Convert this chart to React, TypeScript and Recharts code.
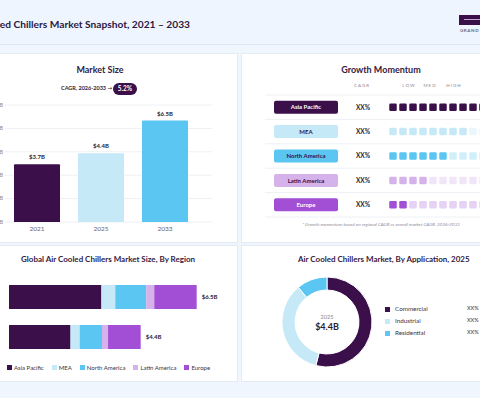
import React from "react";
import {
  BarChart,
  Bar,
  XAxis,
  YAxis,
  CartesianGrid,
  Cell,
  LabelList,
  ScatterChart,
  Scatter,
  PieChart,
  Pie,
} from "recharts";

// market size, top left
const sizeYears = ["2021", "2025", "2033"];
const sizeValues = [3.7, 4.4, 6.5];
const sizeLabels = ["$3.7B", "$4.4B", "$6.5B"];
const sizeTicks = [0, 1.5, 3, 4.5, 6, 7.5];

// regions (shared by momentum + stacked bars)
const regions = ["Asia Pacific", "MEA", "North America", "Latin America", "Europe"];
const regionCagr = ["XX%", "XX%", "XX%", "XX%", "XX%"];
const momentumFilled = [12, 8, 6, 4, 2];
const momentumSteps = 12;

// stacked bars, bottom left
const stackYears = ["2033", "2025"];
const stackTotals = ["$6.5B", "$4.4B"];
const asiaPacific = [3.2, 2.13];
const mea = [0.48, 0.32];
const northAmerica = [1.07, 0.77];
const latinAmerica = [0.28, 0.21];
const europe = [1.47, 1.13];

// application donut, bottom right
const applications = ["Commercial", "Industrial", "Residential"];
const applicationShares = [54, 35, 11];
const applicationPct = ["XX%", "XX%", "XX%"];

const DARK = "#3a0f4a";
const regionColors = [DARK, "#c6e9f8", "#5bc6f1", "#d6b2eb", "#a24fd6"];
const regionFaded = [DARK, "#e9f6fc", "#d0effa", "#f1e6f8", "#e6d2f4"];
const regionText = ["#fff", DARK, DARK, DARK, "#fff"];
const applicationColors = [DARK, "#c6e9f8", "#5bc6f1"];

const FONT = "Lato, 'DejaVu Sans', sans-serif";
const TITLE = "#35203f";

const sizeData = sizeYears.map((year, i) => ({
  year,
  value: sizeValues[i],
  label: sizeLabels[i],
}));

const momentumData = regions.flatMap((region, r) =>
  Array.from({ length: momentumSteps }, (_, step) => ({
    step,
    row: r,
    filled: step < momentumFilled[r],
  }))
);

const stackData = stackYears.map((year, i) => ({
  year,
  ap: asiaPacific[i],
  mea: mea[i],
  na: northAmerica[i],
  la: latinAmerica[i],
  eu: europe[i],
  total: stackTotals[i],
}));

const stackKeys = ["ap", "mea", "na", "la", "eu"];

const applicationData = applications.map((name, i) => ({
  name,
  value: applicationShares[i],
}));

const ROW_HALF = 12.2;
const MOMENTUM_LEFT = 231; // chart left edge on the page

function MomentumTick(props: any) {
  const { y, payload } = props;
  const r = payload.value as number;
  const o = 240 - MOMENTUM_LEFT;
  return (
    <g>
      <line x1={25 + o} x2={300} y1={y - ROW_HALF} y2={y - ROW_HALF} stroke="#edf0f4" />
      {r === regions.length - 1 && (
        <line x1={25 + o} x2={300} y1={y + ROW_HALF} y2={y + ROW_HALF} stroke="#edf0f4" />
      )}
      <rect x={34 + o} y={y - 6.5} width={64} height={13} rx={2} fill={regionColors[r]} />
      <text
        x={66 + o}
        y={y + 2.2}
        textAnchor="middle"
        fontSize={6}
        fontWeight={700}
        fill={regionText[r]}
        fontFamily={FONT}
      >
        {regions[r]}
      </text>
      <text
        x={123 + o}
        y={y + 2.3}
        textAnchor="middle"
        fontSize={6.5}
        fontWeight={700}
        fill="#2a2233"
        fontFamily={FONT}
      >
        {regionCagr[r]}
      </text>
    </g>
  );
}

function MomentumCell(props: any) {
  const { cx, cy, payload } = props;
  const r = payload.row as number;
  return (
    <rect
      x={cx - 3.75}
      y={cy - 3.75}
      width={7.5}
      height={7.5}
      rx={1.3}
      fill={payload.filled ? regionColors[r] : regionFaded[r]}
    />
  );
}

const panel = (left: number, top: number, width: number, height: number) => ({
  position: "absolute" as const,
  left,
  top,
  width,
  height,
  background: "#fff",
  border: "1px solid #e4ebf3",
  boxSizing: "border-box" as const,
});

const abs = (left: number, top: number): React.CSSProperties => ({
  position: "absolute",
  left,
  top,
  whiteSpace: "nowrap",
});

export default function App() {
  return (
    <div
      style={{
        position: "absolute",
        left: 0,
        top: 0,
        width: 480,
        height: 398,
        overflow: "hidden",
        background: "#f0f6fd",
        fontFamily: FONT,
      }}
    >
      {/* header */}
      <div style={{ position: "absolute", left: 0, top: 0, width: 480, height: 44, background: "#eef5fe", borderBottom: "1px solid #dfe9f4" }} />
      <div
        style={{
          position: "absolute",
          right: 290,
          top: 18,
          fontSize: 10.2,
          fontWeight: 700,
          color: "#2b1840",
          whiteSpace: "nowrap",
        }}
      >
        Air Cooled Chillers Market Snapshot, 2021 – 2033
      </div>
      <div style={{ position: "absolute", left: 459, top: 15, width: 30, height: 10, background: DARK }}>
        <div style={{ position: "absolute", left: 5, top: 4, width: 20, height: 1, background: "#bba7c8" }} />
      </div>
      <div style={{ ...abs(460, 28), fontSize: 4.5, fontWeight: 700, color: "#6d6675", letterSpacing: 0.6 }}>
        GRAND VIEW RESEARCH
      </div>

      {/* panels */}
      <div style={panel(-5, 53, 243, 190)} />
      <div style={panel(241, 53, 260, 190)} />
      <div style={panel(-5, 245, 243, 137)} />
      <div style={panel(241, 245, 260, 137)} />

      {/* market size */}
      <div style={{ ...abs(0, 64), width: 200, textAlign: "center", fontSize: 9, fontWeight: 700, color: TITLE }}>
        Market Size
      </div>
      <div style={{ ...abs(61, 85), fontSize: 5.5, fontWeight: 700, color: "#2f2438" }}>
        CAGR, 2026-2033 <span style={{ fontFamily: "'DejaVu Sans'", fontWeight: 400 }}>→</span>
      </div>
      <div
        style={{
          ...abs(113, 83),
          width: 24,
          height: 12,
          borderRadius: 6,
          background: DARK,
          color: "#fff",
          fontSize: 6.5,
          fontWeight: 700,
          textAlign: "center",
          lineHeight: "12px",
        }}
      >
        5.2%
      </div>
      <div style={{ position: "absolute", left: -25, top: 95 }}>
        <BarChart width={237} height={142} data={sizeData} margin={{ top: 10, right: 0, bottom: 0, left: 0 }} barSize={46}>
          <CartesianGrid vertical={false} stroke="#eef0f3" />
          <XAxis
            dataKey="year"
            axisLine={false}
            tickLine={false}
            tickSize={0}
            tickMargin={4}
            padding={{ left: 0, right: 15 }}
            tick={{ fontSize: 6.5, fill: "#6b6572", fontFamily: FONT }}
            height={15}
          />
          <YAxis
            width={30}
            domain={[0, 7.5]}
            ticks={sizeTicks}
            axisLine={false}
            tickLine={false}
            tickSize={0}
            tickMargin={2}
            tickFormatter={(v: number) => `$${v}B`}
            tick={{ fontSize: 5, fill: "#8a8490", fontFamily: FONT }}
          />
          <Bar dataKey="value" isAnimationActive={false} radius={[1, 1, 0, 0]}>
            {sizeData.map((d, i) => (
              <Cell key={d.year} fill={[DARK, "#c6e9f8", "#5bc6f1"][i]} />
            ))}
            <LabelList
              dataKey="label"
              position="top"
              offset={5}
              style={{ fontSize: 6, fontWeight: 700, fill: "#2a2233", fontFamily: FONT }}
            />
          </Bar>
        </BarChart>
      </div>

      {/* growth momentum */}
      <div style={{ ...abs(241, 64), width: 280, textAlign: "center", fontSize: 9, fontWeight: 700, color: TITLE }}>
        Growth Momentum
      </div>
      {[
        ["CAGR", 362],
        ["LOW", 409],
        ["MED", 430],
        ["HIGH", 454],
      ].map(([t, x]) => (
        <div
          key={t as string}
          style={{
            ...abs((x as number) - 20, 83),
            width: 40,
            textAlign: "center",
            fontSize: 4.5,
            letterSpacing: 1,
            color: "#8d8794",
          }}
        >
          {t}
        </div>
      ))}
      <div style={{ position: "absolute", left: MOMENTUM_LEFT, top: 90 }}>
        <ScatterChart width={289} height={132} margin={{ top: 5, right: 12, bottom: 5, left: 0 }}>
          <XAxis
            type="number"
            dataKey="step"
            domain={[-0.5, 11.5]}
            ticks={[-0.5, 11.5]}
            padding={{ left: 0, right: 0 }}
            hide
            allowDataOverflow
          />
          <YAxis
            type="number"
            dataKey="row"
            domain={[-0.5, 4.5]}
            reversed
            ticks={[0, 1, 2, 3, 4]}
            interval={0}
            width={157}
            axisLine={false}
            tickLine={false}
            tick={<MomentumTick />}
          />
          <Scatter data={momentumData} isAnimationActive={false} shape={<MomentumCell />} />
        </ScatterChart>
      </div>
      <div
        style={{
          ...abs(241, 221),
          width: 280,
          textAlign: "center",
          fontSize: 4.6,
          fontStyle: "italic",
          color: "#8f8996",
        }}
      >
        * Growth momentum based on regional CAGR vs overall market CAGR, 2026-2033
      </div>

      {/* stacked by region */}
      <div style={{ ...abs(21, 254), fontSize: 8, fontWeight: 700, color: TITLE }}>
        Global Air Cooled Chillers Market Size, By Region
      </div>
      <div style={{ position: "absolute", left: 0, top: 277 }}>
        <BarChart
          width={240}
          height={80}
          data={stackData}
          layout="vertical"
          margin={{ top: 0, right: 0, bottom: 0, left: 9 }}
          barSize={24}
        >
          <XAxis type="number" domain={[0, 8]} hide />
          <YAxis type="category" dataKey="year" hide />
          {stackKeys.map((k, i) => (
            <Bar key={k} dataKey={k} stackId="a" fill={regionColors[i]} isAnimationActive={false}>
              {k === "eu" && (
                <LabelList
                  dataKey="total"
                  position="right"
                  offset={5}
                  style={{ fontSize: 6, fontWeight: 700, fill: "#2a2233", fontFamily: FONT }}
                />
              )}
            </Bar>
          ))}
        </BarChart>
      </div>
      <div style={{ ...abs(7, 364), display: "flex", gap: 8, fontSize: 6, color: "#3b3342" }}>
        {regions.map((r, i) => (
          <div key={r} style={{ display: "flex", alignItems: "center", gap: 2 }}>
            <div style={{ width: 5, height: 5, background: regionColors[i] }} />
            <span>{r}</span>
          </div>
        ))}
      </div>

      {/* by application */}
      <div style={{ ...abs(298, 254), fontSize: 8, fontWeight: 700, color: TITLE }}>
        Air Cooled Chillers Market, By Application, 2025
      </div>
      <div style={{ position: "absolute", left: 282, top: 277 }}>
        <PieChart width={90} height={90} margin={{ top: 0, right: 0, bottom: 0, left: 0 }}>
          <Pie
            data={applicationData}
            dataKey="value"
            cx={45}
            cy={45}
            innerRadius={32}
            outerRadius={45}
            startAngle={90}
            endAngle={-270}
            stroke="#fff"
            strokeWidth={1}
            isAnimationActive={false}
          >
            {applicationData.map((d, i) => (
              <Cell key={d.name} fill={applicationColors[i]} />
            ))}
          </Pie>
        </PieChart>
      </div>
      <div style={{ ...abs(297, 314), width: 60, textAlign: "center", fontSize: 5.5, lineHeight: "7px", color: "#8a8490" }}>
        2025
      </div>
      <div style={{ ...abs(297, 321), width: 60, textAlign: "center", fontSize: 9, lineHeight: "11px", fontWeight: 700, color: "#2a2233" }}>
        $4.4B
      </div>
      {applications.map((a, i) => (
        <React.Fragment key={a}>
          <div style={{ position: "absolute", left: 385, top: 307 + i * 12, width: 5, height: 5, background: applicationColors[i] }} />
          <div style={{ ...abs(395, 305 + i * 12), fontSize: 6.3, color: "#3b3342" }}>{a}</div>
          <div style={{ ...abs(467, 305 + i * 12), fontSize: 5.5, color: "#3b3342" }}>{applicationPct[i]}</div>
        </React.Fragment>
      ))}
    </div>
  );
}
